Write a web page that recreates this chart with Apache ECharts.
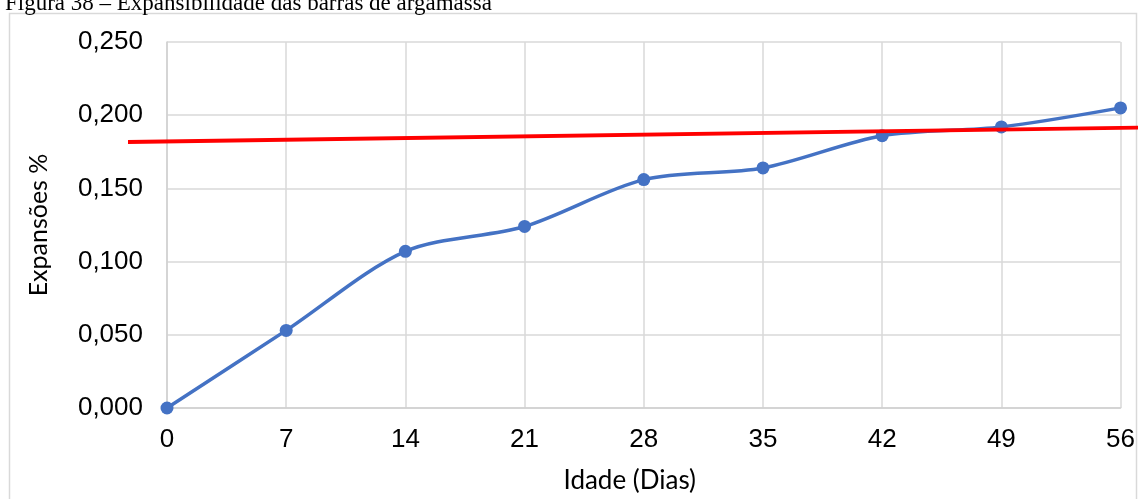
<!DOCTYPE html>
<html>
<head>
<meta charset="utf-8">
<script src="https://cdn.jsdelivr.net/npm/echarts@6/dist/echarts.min.js"></script>
<style>
  html, body { margin: 0; padding: 0; background: #fff; overflow: hidden; }
  #chart { width: 1138px; height: 499px; }
</style>
</head>
<body>
<div id="chart"></div>
<script>
// Ages of the mortar bars (days) and measured expansion (%)
const idadeDias = [0, 7, 14, 21, 28, 35, 42, 49, 56];
const expansoes = [0.000, 0.053, 0.107, 0.124, 0.156, 0.164, 0.186, 0.192, 0.205];
// Reference limit line: start and end points (days, %)
const limiteX = [-2.3, 56.94];
const limiteY = [0.1837, 0.1932];

const fmt = v => v.toFixed(3).replace('.', ',');
const gridTop = 42, gridBottom = 80;

const chart = echarts.init(document.getElementById('chart'), null, { renderer: 'canvas', width: 1138, height: 499 });
chart.setOption({
  animation: false,
  backgroundColor: '#ffffff',
  title: {
    text: 'Figura 38 – Expansibilidade das barras de argamassa',
    left: 0,
    top: -13,
    textStyle: { fontFamily: 'Liberation Serif', fontSize: 23, fontWeight: 'normal', color: '#000' }
  },
  graphic: [{
    type: 'rect',
    shape: { x: 9.5, y: 13.5, width: 1127, height: 500 },
    style: { fill: 'none', stroke: '#d9d9d9', lineWidth: 1.5 },
    silent: true
  }],
  grid: [
    // main plot area
    { left: 167, right: 16, top: gridTop, bottom: gridBottom },
    // wider area for the limit line, which runs past the plot edges
    { left: 128, right: 0, top: gridTop, bottom: gridBottom }
  ],
  xAxis: [
    {
      type: 'value',
      gridIndex: 0,
      min: 0, max: 56, interval: 7,
      name: 'Idade (Dias)',
      nameLocation: 'middle',
      nameGap: 60,
      nameTextStyle: { fontFamily: 'Lato', fontSize: 26, color: '#000', padding: [0, 28, 0, 0] },
      axisLine: { show: true, lineStyle: { color: '#d0d0d0', width: 1.5 } },
      axisTick: { show: false },
      axisLabel: { fontFamily: 'Liberation Sans', fontSize: 26, color: '#000', margin: 19 },
      splitLine: { show: true, lineStyle: { color: '#d9d9d9', width: 1.5 } }
    },
    {
      type: 'value',
      gridIndex: 1,
      min: limiteX[0], max: limiteX[1],
      show: false
    }
  ],
  yAxis: [
    {
      type: 'value',
      gridIndex: 0,
      min: 0, max: 0.25, interval: 0.05,
      name: 'Expansões %',
      nameLocation: 'middle',
      nameGap: 116,
      nameTextStyle: { fontFamily: 'Lato', fontSize: 25, color: '#000' },
      axisLine: { show: true, lineStyle: { color: '#d0d0d0', width: 1.5 } },
      axisTick: { show: false },
      axisLabel: { fontFamily: 'Liberation Sans', fontSize: 26, color: '#000', margin: 24, formatter: fmt },
      splitLine: { show: true, lineStyle: { color: '#d9d9d9', width: 1.5 } }
    },
    {
      type: 'value',
      gridIndex: 1,
      min: 0, max: 0.25,
      show: false
    }
  ],
  series: [
    {
      name: 'Expansões',
      type: 'line',
      xAxisIndex: 0, yAxisIndex: 0,
      data: idadeDias.map((d, i) => [d, expansoes[i]]),
      smooth: 0.3,
      symbol: 'circle',
      symbolSize: 13,
      clip: false,
      lineStyle: { color: '#4472c4', width: 3.5 },
      itemStyle: { color: '#4472c4' },
      z: 3
    },
    {
      name: 'Limite',
      type: 'line',
      xAxisIndex: 1, yAxisIndex: 1,
      data: limiteX.map((x, i) => [x, limiteY[i]]),
      symbol: 'none',
      clip: false,
      lineStyle: { color: '#ff0000', width: 3.8 },
      z: 4
    }
  ]
});
</script>
</body>
</html>
